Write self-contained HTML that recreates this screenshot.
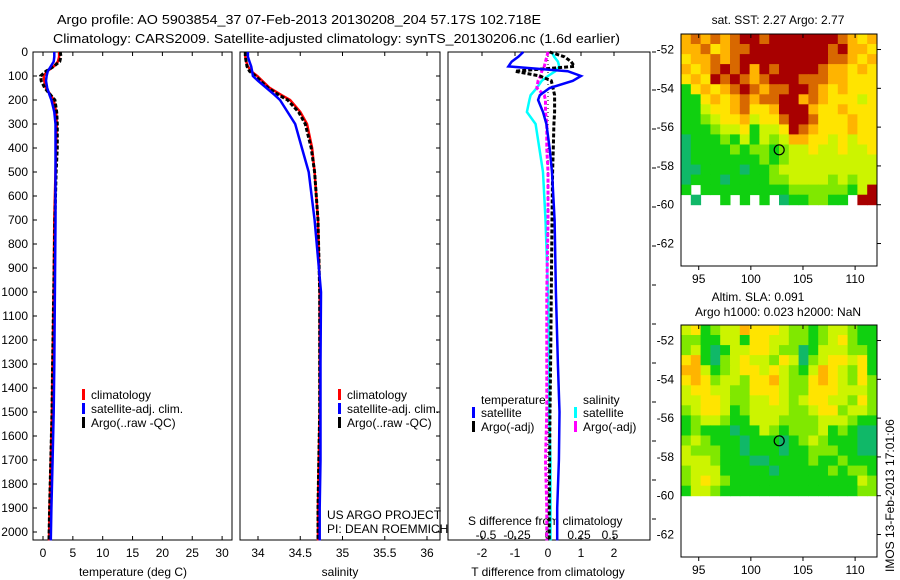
<!DOCTYPE html>
<html><head><meta charset="utf-8">
<style>
body{margin:0;background:#fff;}
svg{display:block;font-family:"Liberation Sans",sans-serif;}
text{fill:#000;}
</style></head>
<body>
<svg id="fig" width="900" height="580" viewBox="0 0 900 580" xmlns="http://www.w3.org/2000/svg">
<rect width="900" height="580" fill="#fff"/>
<text x="57" y="24" font-size="13" textLength="484" lengthAdjust="spacingAndGlyphs">Argo profile: AO 5903854_37 07-Feb-2013 20130208_204 57.17S 102.718E</text>
<text x="53" y="43" font-size="13" textLength="567" lengthAdjust="spacingAndGlyphs">Climatology: CARS2009. Satellite-adjusted climatology: synTS_20130206.nc (1.6d earlier)</text>
<g id="g1"></g><g id="g2"></g><g id="g3"></g><g id="m1"></g><g id="m2"></g>
<text x="778" y="24" font-size="12" text-anchor="middle">sat. SST: 2.27 Argo: 2.77</text>
<text x="758" y="301" font-size="12" text-anchor="middle">Altim. SLA: 0.091</text>
<text x="778" y="316" font-size="12" text-anchor="middle">Argo h1000: 0.023 h2000: NaN</text>
<text transform="translate(894,572) rotate(-90)" font-size="12">IMOS 13-Feb-2013 17:01:06</text>
<text x="327" y="519" font-size="12">US ARGO PROJECT</text>
<text x="327" y="533" font-size="12">PI: DEAN ROEMMICH</text>
</svg>
<script>
// ---- data ----
const depths = [0,20,40,60,80,100,120,150,180,200,250,300,400,500,700,1000,1300,1500,1700,1900,2035];
const tempClim = [2.7,2.7,2.5,1.8,0.7,0.1,0.2,0.5,1.3,1.8,2.2,2.3,2.2,2.1,1.9,1.8,1.6,1.5,1.3,1.1,1.0];
const tempSat  = [1.9,1.9,1.8,1.3,0.8,0.6,0.5,0.7,1.1,1.4,1.9,2.1,2.1,2.1,2.1,2.0,1.9,1.8,1.6,1.4,1.3];
const tempArgo = [2.9,3.0,2.8,1.8,0.5,-0.4,-0.3,0.3,1.3,2.0,2.3,2.4,2.4,2.2,2.0,1.8,1.6,1.5,1.3,1.1,1.0];
const salClim = [33.85,33.85,33.86,33.88,33.92,33.99,34.05,34.14,34.28,34.38,34.5,34.58,34.64,34.67,34.71,34.73,34.73,34.73,34.72,34.71,34.71];
const salSat  = [33.88,33.88,33.9,33.92,33.93,33.94,34.0,34.1,34.2,34.26,34.35,34.44,34.52,34.6,34.67,34.745,34.74,34.74,34.74,34.73,34.73];
const salArgo = [33.85,33.85,33.86,33.87,33.9,33.97,34.03,34.12,34.25,34.35,34.48,34.56,34.63,34.67,34.71,34.73,34.73,34.73,34.72,34.71,34.71];
const tDiffSat  = [-0.75,-0.9,-1.1,-1.2,0.6,1.0,0.75,0.05,-0.25,-0.3,-0.15,-0.05,0.05,0.12,0.2,0.24,0.3,0.35,0.33,0.28,0.28];
const tDiffArgo = [0.05,0.5,0.7,0.8,-1.0,-0.25,0.1,0.15,0.2,0.2,0.2,0.18,0.16,0.14,0.12,0.1,0.08,0.06,0.05,0.04,0.04];
const sDiffSat  = [0.03,0.05,0.08,0.09,0.06,0.0,-0.05,-0.09,-0.14,-0.15,-0.17,-0.1,-0.07,-0.04,-0.02,0.0,0.01,0.01,0.02,0.02,0.02];
const sDiffArgo = [0.0,-0.01,-0.02,-0.03,-0.05,-0.06,-0.08,-0.09,-0.03,-0.02,-0.02,-0.01,-0.01,0.0,0.0,-0.01,-0.01,-0.01,-0.02,-0.01,-0.01];
const depthTicks = [0,100,200,300,400,500,600,700,800,900,1000,1100,1200,1300,1400,1500,1600,1700,1800,1900,2000];
const tempTicks = [0,5,10,15,20,25,30];
const salTicks = [34,34.5,35,35.5,36];
const salTickLabels = ["34","34.5","35","35.5","36"];
const tdTicks = [-2,-1,0,1,2];
const sdTicks = [-0.5,-0.25,0,0.25,0.5];
const sdTickLabels = ["-0.5","-0.25","0","0.25","0.5"];
const latTicks = [-52,-54,-56,-58,-60,-62];
const lonTicks = [95,100,105,110];
const floatLon = 102.718, floatLat = -57.17;
const sstGrid = [
"78787899899999998767",
"77867889999999989776",
"67787899999999988767",
"76789897989999877676",
"67698987899988877666",
"36767898788998767666",
"33676787889978766656",
"33566786679997667666",
"33456675668998666766",
"33345563556987666766",
"23334353545776656566",
"23333434434556556556",
"23333333434555555555",
"22333323345555555555",
"23332333344555545455",
"3.333333333444444359",
".2..3.3.3.2334433.99"];
const slaGrid = [
"56345576665443455433",
"44335536655443456433",
"45323556654423555443",
"67324565546524566563",
"77534566565435765463",
"67645546675446765464",
"56655446665446665554",
"55665445565456655464",
"45665345555445664554",
"34554335554444555433",
"34333233543444534322",
"45433323332345433322",
"54443323332334443322",
"55543332233334334333",
"45553333323333343443",
"45654333333333333354",
"35543333333333333344"];
const NS = "http://www.w3.org/2000/svg";
const cmap = {"0":"#0040ff","1":"#00c0d0","2":"#10b868","3":"#10d010","4":"#80e800","5":"#ccf400","6":"#ffe400","7":"#ffb400","8":"#d86800","9":"#a80000"};
function mk(parent, tag, attrs){const e=document.createElementNS(NS,tag);for(const k in attrs)e.setAttribute(k,attrs[k]);parent.appendChild(e);return e;}
const Y0=52, YS=0.24, PB=540;
const yD = d => Y0 + d*YS;

function panel(g, x0, x1, name){
  const r = mk(g,'rect',{x:x0,y:Y0,width:x1-x0,height:PB-Y0,fill:'none',stroke:'#000','stroke-width':1});
  
  
}
function line(g, xs, xfn, col, name, dash){
  let d='';
  xs.forEach((v,i)=>{d+=(i?'L':'M')+xfn(v).toFixed(1)+','+yD(depths[i]).toFixed(1);});
  const p=mk(g,'path',{d:d,fill:'none',stroke:col,'stroke-width':dash?3:2.5});
  if(dash)p.setAttribute('stroke-dasharray',dash);
  
  
}
function xTicks(g, ticks, labels, xfn, ylab, name){
  ticks.forEach((t,i)=>{
    const x=xfn(t);
    mk(g,'line',{x1:x,y1:Y0,x2:x,y2:Y0+4,stroke:'#000'});
    mk(g,'line',{x1:x,y1:PB,x2:x,y2:PB-4,stroke:'#000'});
    const tx=mk(g,'text',{x:x,y:ylab,'font-size':12,'text-anchor':'middle'});
    tx.textContent=labels[i];
    
    
  });
}
function legend(g, x, items){
  items.forEach((it,i)=>{
    const y=399+i*14;
    mk(g,'rect',{x:x,y:y-10,width:3,height:11,fill:it[1]});
    const t=mk(g,'text',{x:x+9,y:y,'font-size':12});
    t.textContent=it[0];
    
    
  });
}
function axisTitle(g,x,text,name){
  const t=mk(g,'text',{x:x,y:576,'font-size':12,'text-anchor':'middle'});
  t.textContent=text;
  
  
}

// Panel 1: temperature
const g1=document.getElementById('g1');
const xT = t => 43 + t*5.97;
panel(g1,33,232,'temperature-panel');
depthTicks.forEach(d=>{
  mk(g1,'line',{x1:33,y1:yD(d),x2:37,y2:yD(d),stroke:'#000'});
  const t=mk(g1,'text',{x:28,y:yD(d)+4,'font-size':12,'text-anchor':'end'});
  t.textContent=d;
  
  
});
xTicks(g1,tempTicks,tempTicks.map(String),xT,557,'temperature');
line(g1,tempClim,xT,'#ff0000','temp-climatology-line');
line(g1,tempArgo,xT,'#000','temp-argo-line','4,2');
line(g1,tempSat,xT,'#0000ff','temp-satellite-line');
legend(g1,82,[["climatology","#ff0000"],["satellite-adj. clim.","#0000ff"],["Argo(..raw -QC)","#000"]]);
axisTitle(g1,133,'temperature (deg C)','temperature-axis-title');

// Panel 2: salinity
const g2=document.getElementById('g2');
const xS = s => 258 + (s-34)*84.5;
panel(g2,240,440,'salinity-panel');
depthTicks.forEach(d=>{mk(g2,'line',{x1:440,y1:yD(d),x2:436,y2:yD(d),stroke:'#000'});});
xTicks(g2,salTicks,salTickLabels,xS,557,'salinity');
line(g2,salClim,xS,'#ff0000','sal-climatology-line');
line(g2,salArgo,xS,'#000','sal-argo-line','4,2');
line(g2,salSat,xS,'#0000ff','sal-satellite-line');
legend(g2,338,[["climatology","#ff0000"],["satellite-adj. clim.","#0000ff"],["Argo(..raw -QC)","#000"]]);
axisTitle(g2,340,'salinity','salinity-axis-title');

// Panel 3: differences
const g3=document.getElementById('g3');
const xTD = v => 548 + v*33;
const xSD = v => 548 + v*124;
panel(g3,448,650,'difference-panel');
mk(g3,'line',{x1:548,y1:Y0,x2:548,y2:PB,stroke:'#000','stroke-dasharray':'1,3'});
xTicks(g3,tdTicks,tdTicks.map(String),xTD,557,'t-diff');
sdTicks.forEach((t,i)=>{
  const tx=mk(g3,'text',{x:xSD(t),y:539,'font-size':12,'text-anchor':'middle'});
  tx.textContent=sdTickLabels[i];
  
  
});
[52,90,129,168,207,246,285,324,363,402,441,480,519].forEach(y=>mk(g3,'line',{x1:652,y1:y,x2:656,y2:y,stroke:'#000'}));
const sdt=mk(g3,'text',{x:468,y:525,'font-size':12});
sdt.textContent='S difference from climatology';


line(g3,sDiffSat,xSD,'#00ffff','s-diff-satellite-line');
line(g3,sDiffArgo,xSD,'#ff00ff','s-diff-argo-line','4,2');
line(g3,tDiffArgo,xTD,'#000','t-diff-argo-line','4,2');
line(g3,tDiffSat,xTD,'#0000ff','t-diff-satellite-line');
const lt=mk(g3,'text',{x:481,y:404,'font-size':12});lt.textContent='temperature';


const ls=mk(g3,'text',{x:583,y:404,'font-size':12});ls.textContent='salinity';


[["satellite","#0000ff",472],["Argo(-adj)","#000",472],["satellite","#00ffff",574],["Argo(-adj)","#ff00ff",574]].forEach((it,i)=>{
  const y=417+(i%2)*14;
  mk(g3,'rect',{x:it[2],y:y-10,width:3,height:11,fill:it[1]});
  const t=mk(g3,'text',{x:it[2]+9,y:y,'font-size':12});t.textContent=it[0];
  
  
});
axisTitle(g3,548,'T difference from climatology','t-diff-axis-title');

// Maps
function mapPanel(gid, top, bottom, grid, name){
  const g=document.getElementById(gid);
  const L=681,R=877, LON0=93.3, LON1=112.1, LAT0=-51.2;
  const latS=19.4;
  const xL = lon => L + (lon-LON0)*(R-L)/(LON1-LON0);
  const yL = lat => top + (LAT0-lat)*latS;
  const rows=grid.length, cols=grid[0].length;
  const cw=(R-L)/cols, ch=(yL(-60)-top)/rows;
  grid.forEach((row,ri)=>{
    for(let ci=0;ci<cols;ci++){
      const c=row[ci]; if(c==='.')continue;
      const cell=mk(g,'rect',{x:(L+ci*cw).toFixed(1),y:(top+ri*ch).toFixed(1),width:(cw+0.5).toFixed(1),height:(ch+0.5).toFixed(1),fill:cmap[c]});
      
      
    }
  });
  const fr=mk(g,'rect',{x:L,y:top,width:R-L,height:bottom-top,fill:'none',stroke:'#000'});
  
  
  latTicks.forEach(lat=>{
    const y=yL(lat);
    mk(g,'line',{x1:R,y1:y,x2:R+4,y2:y,stroke:'#000'});
    const t=mk(g,'text',{x:674,y:y+4,'font-size':12,'text-anchor':'end'});t.textContent=lat;
    
    
  });
  lonTicks.forEach(lon=>{
    const x=xL(lon);
    mk(g,'line',{x1:x,y1:top,x2:x,y2:top+4,stroke:'#000'});
    mk(g,'line',{x1:x,y1:bottom,x2:x,y2:bottom+4,stroke:'#000'});
    const t=mk(g,'text',{x:x,y:bottom+17,'font-size':12,'text-anchor':'middle'});t.textContent=lon;
    
    
  });
  const c=mk(g,'circle',{cx:xL(floatLon),cy:yL(floatLat),r:5,fill:'none',stroke:'#000','stroke-width':1.2});
  
  
}
mapPanel('m1',34,266,sstGrid,'sst-map');
mapPanel('m2',325,557,slaGrid,'sla-map');
</script>
</body></html>
